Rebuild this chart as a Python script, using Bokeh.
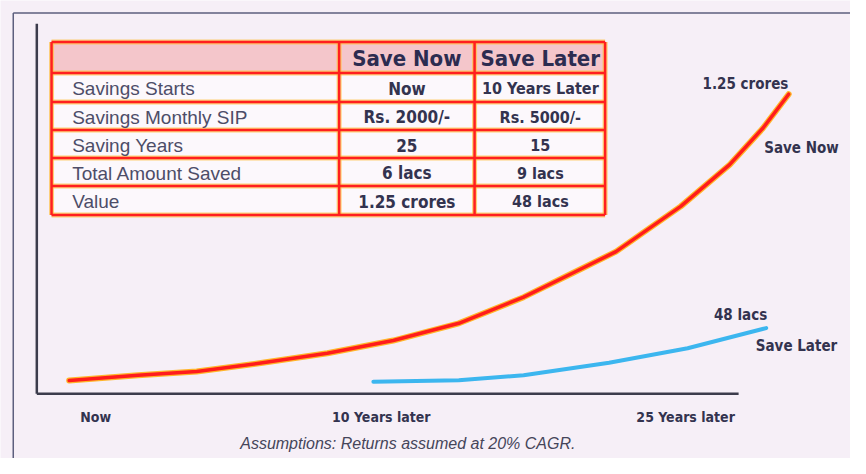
from bokeh.plotting import figure
from bokeh.models import Range1d
from bokeh.core.properties import value
from bokeh.embed import file_html
from bokeh.resources import INLINE

# ---------------- data ----------------
red_years = [0, 2.39, 4.43, 6.72, 8.97, 11.26, 13.54, 15.79, 17.5, 19.0, 21.25, 22.95, 24.11, 25]
red_vals = [5.5, 7.7, 9.3, 12.9, 16.9, 22.2, 29.4, 40.3, 50.4, 59.3, 78.2, 95.6, 110.9, 125]
blue_years = [10.57, 13.54, 15.79, 18.76, 21.49, 24.22]
blue_vals = [5.0, 5.6, 7.7, 12.9, 19.0, 27.4]

x_labels = ["Now", "10 Years later", "25 Years later"]
table_cols = ["Save Now", "Save Later"]
table_rows = ["Savings Starts", "Savings Monthly SIP", "Saving Years", "Total Amount Saved", "Value"]
save_now = ["Now", "Rs. 2000/-", "25", "6 lacs", "1.25 crores"]
save_later = ["10 Years Later", "Rs. 5000/-", "15", "9 lacs", "48 lacs"]
end_labels = ["1.25 crores", "48 lacs"]
series_names = ["Save Now", "Save Later"]
note = "Assumptions: Returns assumed at 20% CAGR."

# ---------------- styles ----------------
BG = "#f6eff7"
INK = "#33334f"
NARROW = value("DejaVu Sans Condensed, Liberation Sans Narrow, Liberation Sans")
SANS = value("Liberation Sans")

p = figure(width=850, height=458, output_backend="svg", toolbar_location=None,
           x_range=Range1d(-2.387, 27.149), y_range=Range1d(-27.02, 164.11),
           x_axis_type=None, y_axis_type=None, min_border=0,
           background_fill_color=BG, border_fill_color=BG, outline_line_color=None)
p.grid.visible = False
# layout coordinates (reference-picture pixels) for frame, table and texts
p.extra_x_ranges = {"px": Range1d(0, 866)}
p.extra_y_ranges = {"px": Range1d(474, 0)}
PX = dict(x_range_name="px", y_range_name="px")

# outer frame
p.segment(x0=[13, 13], y0=[13, 13], x1=[13, 880], y1=[490, 13],
          line_color="#5d5f7e", line_width=1.5, **PX)
# axis lines
p.segment(x0=[37, 37], y0=[24, 407], x1=[37, 752], y1=[407, 407],
          line_color="#3c3c4c", line_width=2.5, **PX)

# curves
p.line(red_years, red_vals, line_color="#ffb52a", line_width=6, line_join="round", line_cap="round")
p.line(red_years, red_vals, line_color="#ff1c1c", line_width=3.5, line_join="round", line_cap="round")
p.line(blue_years, blue_vals, line_color="#3cb6ef", line_width=4, line_join="round", line_cap="round")

# table
col_edges = [52, 345, 483, 616]
row_edges = [43, 75, 105, 134, 163, 192, 222]
p.quad(left=[52], right=[616], top=[43], bottom=[75], fill_color="#f4c6cb", line_color=None, **PX)
p.quad(left=[52], right=[616], top=[75], bottom=[222], fill_color="#fcf8fc", line_color=None, **PX)
hx0 = [52] * len(row_edges); hx1 = [616] * len(row_edges)
vy0 = [43] * len(col_edges); vy1 = [222] * len(col_edges)
for w, c, a in ((5, "#ffc040", 0.7), (2.5, "#ff1f1f", 1.0)):
    p.segment(x0=hx0, y0=row_edges, x1=hx1, y1=row_edges, line_color=c, line_width=w, line_alpha=a, **PX)
    p.segment(x0=col_edges, y0=vy0, x1=col_edges, y1=vy1, line_color=c, line_width=w, line_alpha=a, **PX)

centers = [(row_edges[i] + row_edges[i + 1]) / 2 + 1.5 for i in range(1, 6)]
p.text(x=[414, 550], y=[60, 60], text=table_cols, text_font=NARROW, text_font_style="bold",
       text_font_size="22px", text_color="#2c2c50", text_align="center", text_baseline="middle", **PX)
p.text(x=[73] * 5, y=centers, text=table_rows, text_font=SANS, text_font_size="19px",
       text_color="#4d4d68", text_align="left", text_baseline="middle", **PX)
p.text(x=[414] * 5, y=centers, text=save_now, text_font=NARROW, text_font_style="bold",
       text_font_size="17px", text_color=INK, text_align="center", text_baseline="middle", **PX)
p.text(x=[550] * 5, y=centers, text=save_later, text_font=NARROW, text_font_style="bold",
       text_font_size="16px", text_color=INK, text_align="center", text_baseline="middle", **PX)

# curve labels
p.text(x=[759, 754], y=[86, 326], text=end_labels, text_font=NARROW, text_font_style="bold",
       text_font_size="15px", text_color=INK, text_align="center", text_baseline="middle", **PX)
p.text(x=[816, 811], y=[153, 358], text=series_names, text_font=NARROW, text_font_style="bold",
       text_font_size="15px", text_color=INK, text_align="center", text_baseline="middle", **PX)

# x labels
p.text(x=[97, 388, 698], y=[431, 431, 431], text=x_labels, text_font=NARROW, text_font_style="bold",
       text_font_size="14px", text_color=INK, text_align="center", text_baseline="middle", **PX)
p.text(x=[415], y=[458], text=[note], text_font=SANS, text_font_style="italic",
       text_font_size="16px", text_color="#45455a", text_align="center", text_baseline="middle", **PX)

open("out.html", "w").write(file_html(p, INLINE))
